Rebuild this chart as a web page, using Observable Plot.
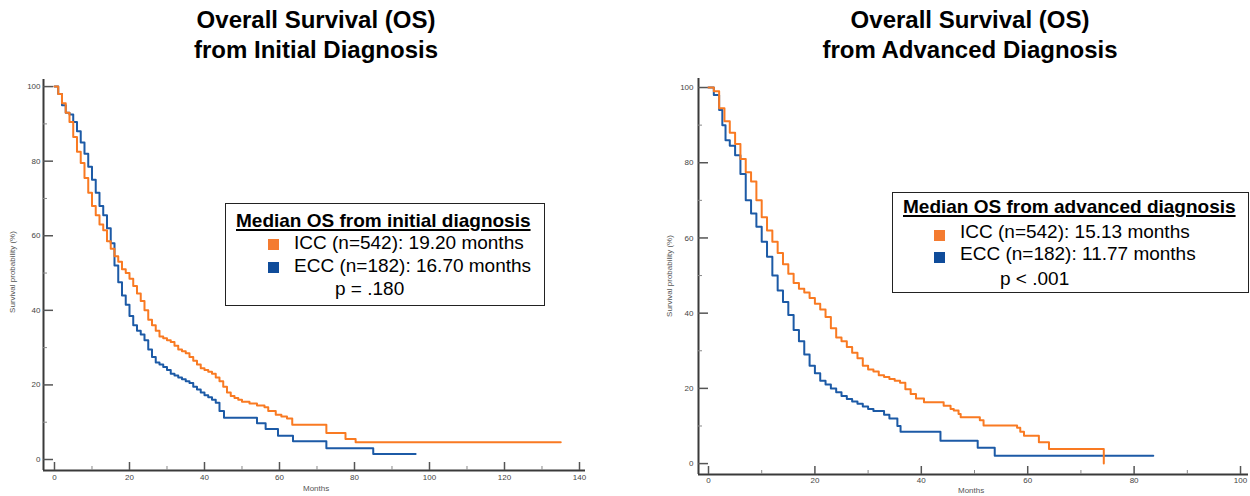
<!DOCTYPE html>
<html>
<head>
<meta charset="utf-8">
<script src="https://cdn.jsdelivr.net/npm/d3@7"></script>
<script src="https://cdn.jsdelivr.net/npm/@observablehq/plot@0.6"></script>
<style>
  html, body { margin: 0; padding: 0; background: #fff; }
  body { width: 1250px; height: 496px; position: relative; overflow: hidden;
         font-family: "Liberation Sans", Arial, sans-serif; color: #000; }
  .abs { position: absolute; white-space: nowrap; }
  .title { width: 500px; text-align: center; font-size: 24px; font-weight: bold; line-height: 30px; }
  .box { border: 1.5px solid #222; box-sizing: border-box; background: #fff; }
  .lt { font-size: 19px; line-height: 19px; }
  .lh { font-weight: bold; text-decoration: underline; text-decoration-thickness: 2px; text-underline-offset: 2px; }
  .sq { width: 11px; height: 11px; }
  .axlab { font-size: 8px; color: #555; }
</style>
</head>
<body>
<script>
// ---------------- data ----------------
const titlesLeft = ["Overall Survival (OS)", "from Initial Diagnosis"];
const titlesRight = ["Overall Survival (OS)", "from Advanced Diagnosis"];
const seriesNames = ["ICC", "ECC"];
const seriesCounts = ["ICC (n=542)", "ECC (n=182)"];
const seriesColors = ["#f97a22", "#1c5aa6"];
const legendSquareColors = ["#f47b30", "#0f4c9a"];
const legendTitleLeft = "Median OS from initial diagnosis";
const legendTitleRight = "Median OS from advanced diagnosis";
const mediansLeft = ["19.20", "16.70"];
const mediansRight = ["15.13", "11.77"];
const pLeft = "p = .180";
const pRight = "p < .001";
const xLabel = "Months";
const yLabel = "Survival probability (%)";

const yMajor = [0, 20, 40, 60, 80, 100];
const yMinor = [10, 30, 50, 70, 90];
const xMajorLeft = [0, 20, 40, 60, 80, 100, 120, 140];
const xMinorLeft = [10, 30, 50, 70, 90, 110, 130];
const xMajorRight = [0, 20, 40, 60, 80, 100];
const xMinorRight = [10, 30, 50, 70, 90];

// Left: OS from initial diagnosis
const leftIccTime = [0,1,2,3,4,5,6,7,8,9,10,11,12,13,14,15,16,17,18,19,20,21,22,23,24,25,26,27,28,29,30,31,32,33,34,35,36,37,38,39,40,41,42,43,44,45,46,47,48,49,50,52,54,56,57,59,60.5,62,63.4,72.5,77.6,80.3,135];
const leftIccSurv = [100,98,95.5,93,90.5,86.5,82.5,79.5,75.5,71.5,68,65.5,63,61.5,58.5,56.5,54.5,53,51,50,48.5,46.5,44.5,42.5,40,37.5,36,34.5,33,32.5,32,31.5,30.5,29.5,29,28.5,27.5,26.5,25.5,24.5,24,23.5,23,22,21,19.5,18,17,16.5,16,15.5,15,14.5,14,13,12,11.5,11,9.3,7.1,5.5,4.6,4.6];
const leftEccTime = [0,1,2,3,4,5,6,7,8,9,10,11,12,13,14,15,16,17,18,19,20,21,22,23,24,25,26,27,28,29,30,31,32,33,34,35,36,37,38,39,40,41,42,43,44,45.2,54,56.3,59.6,63.6,72.5,85,96.3];
const leftEccSurv = [100,98,95,93,92.5,90.5,88,85,82,78.5,75,71.5,68,65.5,62,58,52,47.5,44,41.5,38.5,36,34.5,33.5,32,29.5,27.5,26,25.5,24.8,24,23,22.5,22,21.5,21,20.5,19.5,18.8,18,17.2,16.7,16,15.2,13,11.2,9.7,8.2,6.4,4.9,3.0,1.5,1.5];

// Right: OS from advanced diagnosis
const rightIccTime = [0,1,2,3,4,5,6,7,8,9,10,11,12,13,14,15,16,17,18,19,20,21,22,23,24,25,26,27,28,29,30,31,32,33,34,35,36,37,38,39,40.5,44.2,45.5,46.1,47,47.4,51,51.7,58,58.6,59.3,62.1,64,74.3];
const rightIccSurv = [100,99,94.5,91,88,85,81,77.5,75,70,65.5,62,59,56,53,50.5,48,46.5,45.5,44,42.5,41,39,36,33.5,32.5,31,29.5,28,26,25,24.5,23.5,23,22.5,22,21.5,19.8,18.5,17.3,16.3,15.4,14.5,14.1,13.2,12.3,11.5,10.1,9.5,8.5,7.4,5.7,3.9,0];
const rightEccTime = [0,1,2,2.6,3.2,4,5,6,7,8,9,10,11,12,13,14,15,16,17,18,19,20,21,22,23,24,25,26,27,28,29,30,31,33,34,35.5,36.1,43.6,50.6,53.8,83.6];
const rightEccSurv = [100,98,94,90,86,84.5,82,77,70,66.5,63,59,55,50,46,43,39.5,35.5,32.5,29,26,24,22,21,20,19,18,17.2,16.5,15.9,15.2,14.5,14,13,12,10,8.5,6.1,4.2,2.1,2.1];

// scale domains (the axes are offset from the data origin)
const xDomainLeft = [-2.93, 141.6];
const yDomainLeft = [-2.95, 101.9];
const xDomainRight = [-1.88, 101.5];
const yDomainRight = [-2.9, 102.4];

// ---------------- helpers ----------------
function series(time, surv, name) {
  return time.map((t, i) => ({t, s: surv[i], series: name}));
}
const leftData = [...series(leftEccTime, leftEccSurv, "ECC"), ...series(leftIccTime, leftIccSurv, "ICC")];
const rightData = [...series(rightEccTime, rightEccSurv, "ECC"), ...series(rightIccTime, rightIccSurv, "ICC")];

function km(data, opt) {
  const axisColor = "#3a3a3a";
  const tickColor = "#555";
  return Plot.plot({
    width: opt.width, height: opt.height,
    marginLeft: opt.ml, marginRight: opt.mr, marginTop: opt.mt, marginBottom: opt.mb,
    x: {domain: opt.xDomain},
    y: {domain: opt.yDomain},
    color: {domain: seriesNames, range: seriesColors},
    style: {fontFamily: '"Liberation Sans", Arial, sans-serif', background: "transparent", overflow: "visible"},
    marks: [
      // axis lines
      Plot.ruleX([opt.xDomain[0]], {stroke: axisColor, strokeWidth: 2}),
      Plot.ruleY([opt.yDomain[0]], {stroke: axisColor, strokeWidth: 2}),
      // y ticks (inward) and labels
      Plot.axisY(yMajor, {tickSize: 10, dx: 10, fill: "none", stroke: tickColor, strokeWidth: 1.5, label: null}),
      Plot.axisY(yMinor, {tickSize: 4, dx: 4, fill: "none", stroke: "#888", strokeWidth: 1, label: null}),
      Plot.axisY(yMajor, {tickSize: 0, tickPadding: opt.ypad, fontSize: 8, fill: "#444", label: null}),
      // x ticks (inward) and labels
      Plot.axisX(opt.xMajor, {tickSize: 8, dy: -8, fill: "none", stroke: tickColor, strokeWidth: 1.5, label: null}),
      Plot.axisX(opt.xMinor, {tickSize: 4, dy: -4, fill: "none", stroke: "#888", strokeWidth: 1, label: null}),
      Plot.axisX(opt.xMajor, {tickSize: 0, tickPadding: opt.xpad, fontSize: 8, fill: "#444", label: null}),
      // survival curves
      Plot.line(data, {x: "t", y: "s", z: "series", stroke: "series", curve: "step-after", strokeWidth: 2})
    ]
  });
}

function addAbs(html, cls, left, top, extra) {
  const d = document.createElement("div");
  d.className = "abs " + (cls || "");
  d.style.left = left + "px";
  d.style.top = top + "px";
  if (extra) Object.assign(d.style, extra);
  d.innerHTML = html;
  document.body.appendChild(d);
  return d;
}

// ---------------- left panel ----------------
const left = km(leftData, {width: 600, height: 436, ml: 43, mr: 15, mt: 19, mb: 26,
  xDomain: xDomainLeft, yDomain: yDomainLeft, xMajor: xMajorLeft, xMinor: xMinorLeft, ypad: 3, xpad: 4});
left.style.position = "absolute"; left.style.left = "0px"; left.style.top = "60px";
document.body.appendChild(left);

// ---------------- right panel ----------------
const right = km(rightData, {width: 610, height: 436, ml: 58, mr: 2, mt: 18, mb: 22,
  xDomain: xDomainRight, yDomain: yDomainRight, xMajor: xMajorRight, xMinor: xMinorRight, ypad: 5, xpad: 3});
right.style.position = "absolute"; right.style.left = "640px"; right.style.top = "60px";
document.body.appendChild(right);

// ---------------- titles ----------------
addAbs(titlesLeft.join("<br>"), "title", 316 - 250, 5);
addAbs(titlesRight.join("<br>"), "title", 970 - 250, 5);

// axis labels
addAbs(xLabel, "axlab", 303, 484);
addAbs(xLabel, "axlab", 958, 486);
const yl1 = addAbs(yLabel, "axlab", 12, 272, {transform: "translate(-50%,-50%) rotate(-90deg)"});
const yl2 = addAbs(yLabel, "axlab", 669, 276, {transform: "translate(-50%,-50%) rotate(-90deg)"});

// ---------------- legends ----------------
function legend(o) {
  addAbs("", "box", o.bx, o.by, {width: o.bw + "px", height: o.bh + "px"});
  addAbs(o.title, "lt lh", o.tx, o.base[0] - 16);
  for (let i = 0; i < 2; i++) {
    addAbs("", "sq", o.sqx, o.sqy[i], {background: legendSquareColors[i]});
    addAbs(seriesCounts[i] + ": " + o.medians[i] + " months", "lt", o.lx, o.base[i + 1] - 16);
  }
  addAbs(o.p, "lt", o.px, o.base[3] - 16);
}
legend({bx: 225, by: 203, bw: 320, bh: 103, title: legendTitleLeft, tx: 236,
  base: [227, 249, 272, 295], sqx: 268, sqy: [239, 262], lx: 294, medians: mediansLeft, p: pLeft, px: 335});
legend({bx: 892, by: 192, bw: 357, bh: 101, title: legendTitleRight, tx: 903,
  base: [213, 238, 260, 285], sqx: 934, sqy: [230, 252], lx: 960, medians: mediansRight, p: pRight, px: 1000});
</script>
</body>
</html>
